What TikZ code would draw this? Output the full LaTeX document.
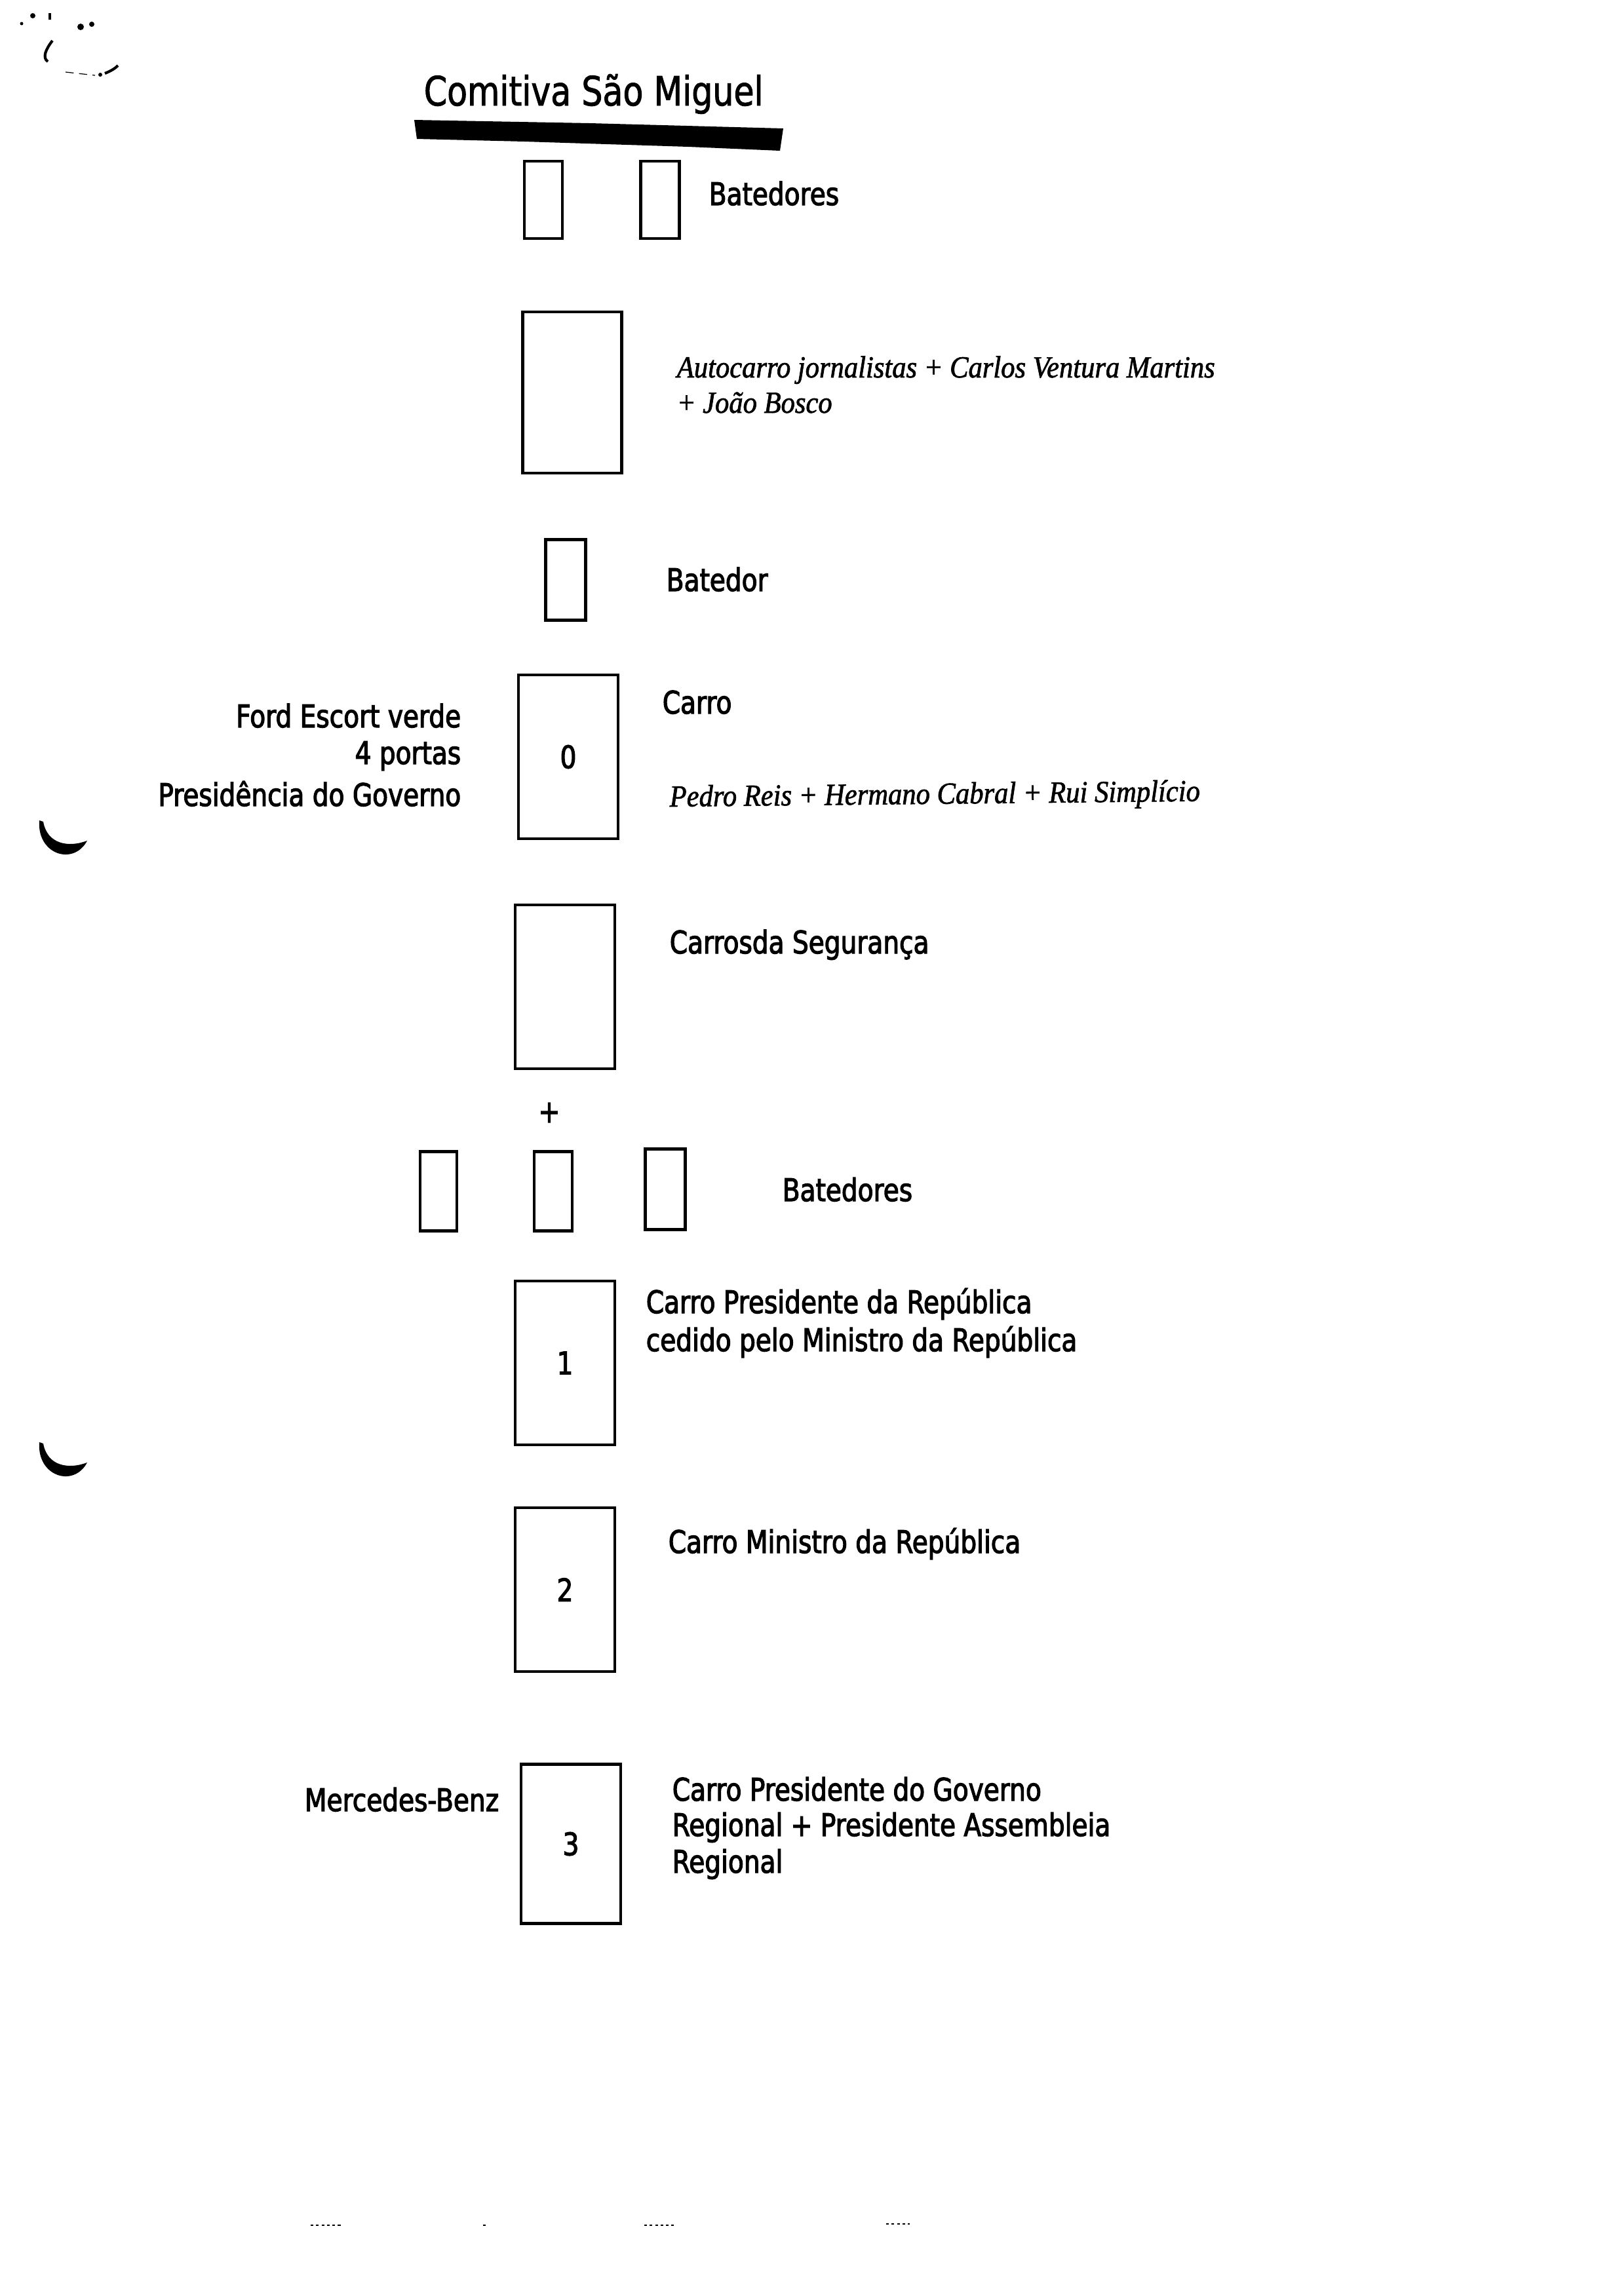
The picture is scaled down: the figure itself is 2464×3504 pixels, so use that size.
\documentclass[tikz,border=0pt]{standalone}
\usepackage{fontspec}
\setmainfont{Liberation Serif}
\newfontfamily\dotfont[FakeStretch=0.82,FakeBold=2.5]{DejaVu Sans}
\newfontfamily\titlefont[FakeStretch=0.82,FakeBold=1.5]{DejaVu Sans}
\newfontfamily\itfont[FakeStretch=0.91,FakeBold=1.5]{Liberation Serif}
\begin{document}
\begin{tikzpicture}[x=0.2415pt,y=-0.2415pt,
  lbl/.style={font=\dotfont\fontsize{11.5}{13}\selectfont,inner sep=0pt},
  ital/.style={font=\itfont\itshape\fontsize{11.3}{13}\selectfont,inner sep=0pt},
  carbox/.style={draw,line width=1pt,inner sep=0pt,font=\dotfont\fontsize{11.5}{13}\selectfont}]
\useasboundingbox (0,0) rectangle (2464,3504);
% title
\node[lbl,anchor=base west,font=\titlefont\fontsize{14.9}{16}\selectfont] (title) at (646,161) {Comitiva São Miguel};
\fill (632,183) -- (900,188) -- (1195,196) -- (1190,230) -- (1050,224) -- (800,216) -- (636,212) -- cycle;
% batedores top
\node[carbox,minimum width={58*0.2415pt},minimum height={118*0.2415pt}] (b1) at (829,305) {};
\node[carbox,minimum width={59*0.2415pt},minimum height={118*0.2415pt}] (b2) at (1007,305) {};
\node[lbl,anchor=base west] (t1) at (1081,313) {Batedores};
% autocarro
\node[carbox,minimum width={151*0.2415pt},minimum height={246*0.2415pt}] (bus) at (873,599) {};
\node[ital,anchor=base west] (t2a) at (1032,576) {Autocarro jornalistas + Carlos Ventura Martins};
\node[ital,anchor=base west] (t2b) at (1032,630) {+ João Bosco};
% batedor
\node[carbox,minimum width={61*0.2415pt},minimum height={123*0.2415pt}] (b3) at (863,885) {};
\node[lbl,anchor=base west] (t3) at (1016,902) {Batedor};
% carro 0
\node[carbox,minimum width={152*0.2415pt},minimum height={250*0.2415pt}] (c0) at (867,1155) {0};
\node[lbl,anchor=base west] (t4) at (1010,1089) {Carro};
\node[ital,anchor=base west,rotate=0.6] (t4b) at (1021,1231) {Pedro Reis + Hermano Cabral + Rui Simplício};
\node[lbl,anchor=base east] (l1) at (704,1110) {Ford Escort verde};
\node[lbl,anchor=base east] (l2) at (704,1166) {4 portas};
\node[lbl,anchor=base east] (l3) at (704,1230) {Presidência do Governo};
% seguranca
\node[carbox,minimum width={152*0.2415pt},minimum height={250*0.2415pt}] (cs) at (862,1506) {};
\node[lbl,anchor=base west] (t5) at (1021,1455) {Carrosda Segurança};
\node[lbl] (plus) at (838,1698) {+};
% three batedores
\node[carbox,minimum width={56*0.2415pt},minimum height={121*0.2415pt}] (b4) at (669,1818) {};
\node[carbox,minimum width={58*0.2415pt},minimum height={121*0.2415pt}] (b5) at (844,1818) {};
\node[carbox,minimum width={61*0.2415pt},minimum height={123*0.2415pt}] (b6) at (1015,1815) {};
\node[lbl,anchor=base west] (t6) at (1193,1833) {Batedores};
% carro 1
\node[carbox,minimum width={152*0.2415pt},minimum height={250*0.2415pt}] (c1) at (862,2080) {1};
\node[lbl,anchor=base west] (t7a) at (985,2004) {Carro Presidente da República};
\node[lbl,anchor=base west] (t7b) at (985,2062) {cedido pelo Ministro da República};
% carro 2
\node[carbox,minimum width={152*0.2415pt},minimum height={250*0.2415pt}] (c2) at (862,2426) {2};
\node[lbl,anchor=base west] (t8) at (1019,2370) {Carro Ministro da República};
% carro 3
\node[carbox,minimum width={152*0.2415pt},minimum height={243*0.2415pt}] (c3) at (871,2814) {3};
\node[lbl,anchor=base east] (l4) at (762,2764) {Mercedes-Benz};
\node[lbl,anchor=base west] (t9a) at (1025,2748) {Carro Presidente do Governo};
\node[lbl,anchor=base west] (t9b) at (1025,2802) {Regional + Presidente Assembleia};
\node[lbl,anchor=base west] (t9c) at (1025,2858) {Regional};
% punch-hole crescents
\fill (60,1252) .. controls (56,1304) and (112,1322) .. (133,1283) .. controls (104,1294) and (72,1288) .. (66,1254) -- cycle;
\fill (60,2201) .. controls (56,2253) and (112,2271) .. (133,2232) .. controls (104,2243) and (72,2237) .. (66,2203) -- cycle;
% scan specks top left
\draw[line width=1pt] (80,62) .. controls (70,75) and (64,88) .. (73,94);
\draw[line width=1pt] (76,20) -- (76,30);
\fill (50,24) circle (4);
\fill (33,36) circle (2.5);
\fill (123,41) circle (5);
\fill (140,37) circle (4);
\draw[line width=1pt] (160,112) .. controls (170,108) and (176,104) .. (180,100);
\fill (153,114) circle (3);
\draw[line width=0.3pt,dash pattern=on 3pt off 2pt] (100,110) -- (145,115);
% bottom specks
\draw[line width=0.4pt,dash pattern=on 1pt off 1pt] (474,3396) -- (523,3396);
\draw[line width=0.4pt,dash pattern=on 1pt off 1pt] (737,3396) -- (745,3396);
\draw[line width=0.4pt,dash pattern=on 1pt off 1pt] (983,3396) -- (1028,3396);
\draw[line width=0.4pt,dash pattern=on 1pt off 1pt] (1352,3394) -- (1388,3394);
\end{tikzpicture}
\end{document}
